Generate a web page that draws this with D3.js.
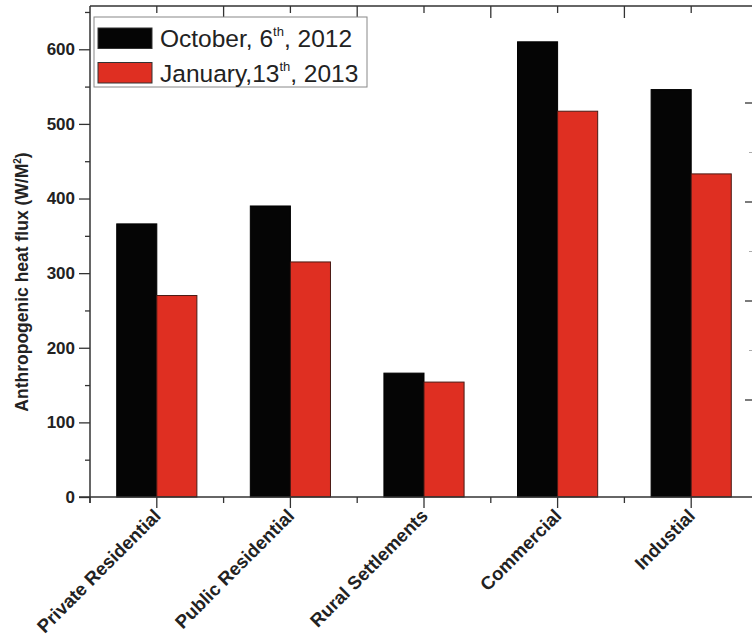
<!DOCTYPE html>
<html>
<head>
<meta charset="utf-8">
<script src="https://cdn.jsdelivr.net/npm/d3@7"></script>
<style>
  html, body { margin: 0; padding: 0; background: #fff; }
  svg { display: block; }
  text { font-family: "Liberation Sans", Arial, sans-serif; }
</style>
</head>
<body>
<svg id="chart" width="752" height="640"></svg>
<script>
// ---- data ----
const categories = ["Private Residential", "Public Residential", "Rural Settlements", "Commercial", "Industial"];
const october2012 = [366, 390, 166, 610, 546];
const january2013 = [270, 315, 154, 517, 433];
const seriesNames = ["October, 6", "January,13"];
const seriesSup = ["th", "th"];
const seriesTail = [", 2012", ", 2013"];
const yMajorTicks = [0, 100, 200, 300, 400, 500, 600];
const yMinorTicks = [50, 150, 250, 350, 450, 550, 650];
const rightMajorTicks = [0, 1, 2, 3];
const rightMinorTicks = [0.5, 1.5, 2.5];

const colors = ["#050505", "#df2f22"];
const svg = d3.select("#chart");

const pL = 90, pR = 758, pT = 6, pB = 497;
const x = d3.scaleBand().domain(categories).range([pL, pR]).padding(0);
const y = d3.scaleLinear().domain([0, 658]).range([pB, pT]);
const barW = x.step() * 0.3;

const series = [october2012, january2013];

// bars
series.forEach((vals, si) => {
  svg.append("g").selectAll("rect")
    .data(categories.map((c, i) => ({c, v: vals[i]})))
    .join("rect")
    .attr("x", d => x(d.c) + x.bandwidth() / 2 + (si === 0 ? -barW : 0))
    .attr("y", d => y(d.v))
    .attr("width", barW)
    .attr("height", d => y(0) - y(d.v))
    .attr("fill", colors[si])
    .attr("stroke", si === 0 ? "#000" : "#4a1a14")
    .attr("stroke-width", 1);
});

const axisColor = "#333";

// left axis
const gL = svg.append("g").attr("transform", `translate(${pL},0)`);
gL.call(d3.axisLeft(y).tickValues(yMajorTicks).tickSize(11).tickPadding(4).tickFormat(d3.format("d")));
gL.append("g").call(d3.axisLeft(y).tickValues(yMinorTicks).tickSize(5).tickFormat(""));
gL.selectAll(".domain").remove();
gL.append("line").attr("x1", 0).attr("x2", 0).attr("y1", pT).attr("y2", pB + 6)
  .attr("stroke", axisColor).attr("stroke-width", 1.5);
gL.selectAll(".tick line").attr("stroke", axisColor).attr("stroke-width", 1.3);
gL.selectAll(".tick text").attr("font-size", 17).attr("font-weight", "bold").attr("fill", "#222")
  .style("font-family", "'Liberation Sans', Arial, sans-serif");

// bottom axis
const centers = categories.map(c => x(c) + x.bandwidth() / 2);
const bounds = d3.range(categories.length + 1).map(i => pL + i * x.step());
const gB = svg.append("g");
gB.append("line").attr("x1", pL - 11).attr("x2", 752).attr("y1", pB).attr("y2", pB)
  .attr("stroke", axisColor).attr("stroke-width", 1.5);
gB.selectAll("line.maj").data(centers).join("line").attr("class", "maj")
  .attr("x1", d => d).attr("x2", d => d).attr("y1", pB).attr("y2", pB + 11)
  .attr("stroke", axisColor).attr("stroke-width", 1.3);
gB.selectAll("line.min").data(bounds).join("line").attr("class", "min")
  .attr("x1", d => d).attr("x2", d => d).attr("y1", pB).attr("y2", pB + 6)
  .attr("stroke", axisColor).attr("stroke-width", 1.3);
gB.selectAll("text").data(categories).join("text")
  .attr("transform", d => `translate(${x(d) + x.bandwidth() / 2 + 5},${pB + 20}) rotate(-45)`)
  .attr("text-anchor", "end")
  .attr("font-size", 18.5).attr("font-weight", "bold").attr("fill", "#222")
  .text(d => d);

// top frame
const gT = svg.append("g");
gT.append("line").attr("x1", pL).attr("x2", 752).attr("y1", pT).attr("y2", pT)
  .attr("stroke", axisColor).attr("stroke-width", 1.5);
gT.selectAll("line.maj").data(bounds.slice(1, -1)).join("line").attr("class", "maj")
  .attr("x1", d => d).attr("x2", d => d).attr("y1", pT).attr("y2", pT + 12)
  .attr("stroke", axisColor).attr("stroke-width", 1.3);
gT.selectAll("line.min").data(centers).join("line").attr("class", "min")
  .attr("x1", d => d).attr("x2", d => d).attr("y1", pT).attr("y2", pT + 7)
  .attr("stroke", axisColor).attr("stroke-width", 1.3);

// right edge ticks (partially visible axis)
const yr = d3.scaleLinear().domain([3, 0]).range([103, 400]);
svg.append("g").selectAll("line").data(rightMajorTicks).join("line")
  .attr("x1", 745).attr("x2", 752).attr("y1", d => yr(d)).attr("y2", d => yr(d))
  .attr("stroke", axisColor).attr("stroke-width", 1.3);
svg.append("g").selectAll("line").data(rightMinorTicks).join("line")
  .attr("x1", 749).attr("x2", 752).attr("y1", d => yr(d)).attr("y2", d => yr(d))
  .attr("stroke", "#aaa").attr("stroke-width", 1);

// y title
svg.append("text")
  .attr("transform", "translate(28,282) rotate(-90)")
  .attr("text-anchor", "middle")
  .attr("font-size", 17.5).attr("font-weight", "bold").attr("fill", "#222")
  .call(t => {
    t.append("tspan").text("Anthropogenic heat flux (W/M");
    t.append("tspan").attr("font-size", 10).attr("dy", -7).text("2");
    t.append("tspan").attr("dy", 7).text(")");
  });

// legend
const lg = svg.append("g");
lg.append("rect").attr("x", 94).attr("y", 17).attr("width", 273).attr("height", 70)
  .attr("fill", "#fff").attr("stroke", "#888").attr("stroke-width", 1);
seriesNames.forEach((name, i) => {
  const yy = 28 + i * 34.5;
  lg.append("rect").attr("x", 98).attr("y", yy).attr("width", 54).attr("height", 20.5)
    .attr("fill", colors[i]).attr("stroke", "#333").attr("stroke-width", 1);
  const t = lg.append("text").attr("x", 160).attr("y", yy + 19).attr("font-size", 24.5).attr("fill", "#222");
  t.append("tspan").text(name);
  t.append("tspan").attr("font-size", 13).attr("dy", -11).text(seriesSup[i]);
  t.append("tspan").attr("dy", 11).text(seriesTail[i]);
});
</script>
</body>
</html>
